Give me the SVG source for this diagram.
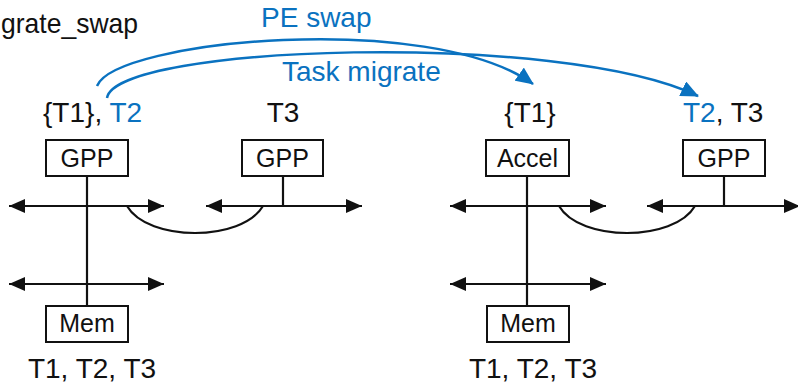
<svg xmlns="http://www.w3.org/2000/svg" width="798" height="385" viewBox="0 0 798 385">
  <style>
    .lbl { font-family: "Liberation Sans", Arial, sans-serif; font-size: 28px; fill: #111; }
    .blue { fill: #0a72c0; }
    .box rect { fill: #fff; stroke: #111; stroke-width: 2; }
    .box text { font-family: "Liberation Sans", Arial, sans-serif; font-size: 25px; fill: #111; text-anchor: middle; }
    .bus { stroke: #111; stroke-width: 2.2; fill: none; marker-start: url(#ah); marker-end: url(#ah); }
    .wire { stroke: #111; stroke-width: 2.2; fill: none; }
    .move { stroke: #0a72c0; stroke-width: 2.5; fill: none; marker-end: url(#bh); }
  </style>
  <defs>
    <marker id="ah" viewBox="0 0 16 14" refX="16" refY="7" markerWidth="16" markerHeight="14" markerUnits="userSpaceOnUse" orient="auto-start-reverse">
      <path d="M0,0 L16,7 L0,14 Z" fill="#111"/>
    </marker>
    <marker id="bh" viewBox="0 0 18 16" refX="17" refY="8" markerWidth="18" markerHeight="16" markerUnits="userSpaceOnUse" orient="auto">
      <path d="M0,0 L18,8 L0,16 Z" fill="#0a72c0"/>
    </marker>
  </defs>

  <rect width="798" height="385" fill="#fff"/>

  <!-- title -->
  <text class="lbl" x="1" y="33" textLength="137" lengthAdjust="spacingAndGlyphs">grate_swap</text>

  <!-- connectors: buses, links, and the task moves -->
  <g id="connectors">
    <path class="bus" d="M9,206 H164"/>
    <path class="bus" d="M9,284 H164"/>
    <path class="bus" d="M206,206 H362"/>
    <path class="bus" d="M450,206 H606"/>
    <path class="bus" d="M450,284 H606"/>
    <path class="bus" d="M647,206 H800"/>
    <path class="wire" d="M87,176 V306"/>
    <path class="wire" d="M283,176 V206"/>
    <path class="wire" d="M527,176 V306"/>
    <path class="wire" d="M724,176 V206"/>
    <path class="wire" d="M127,206 C148,242 242,242 263,206"/>
    <path class="wire" d="M559,206 C580,242 674,242 695,206"/>
    <path class="move" d="M97,86 C115,40 430,10 533,84"/>
    <path class="move" d="M107,98 C115,45 560,30 698,96"/>
  </g>

  <!-- move labels -->
  <text class="lbl blue" x="261" y="27">PE swap</text>
  <text class="lbl blue" x="282" y="81">Task migrate</text>

  <!-- task labels -->
  <text class="lbl" x="43" y="122">{T1}, <tspan class="blue">T2</tspan></text>
  <text class="lbl" x="283" y="122" text-anchor="middle">T3</text>
  <text class="lbl" x="530" y="122" text-anchor="middle">{T1}</text>
  <text class="lbl" x="683" y="122"><tspan class="blue">T2</tspan>, T3</text>
  <text class="lbl" x="92" y="378" text-anchor="middle">T1, T2, T3</text>
  <text class="lbl" x="533" y="378" text-anchor="middle">T1, T2, T3</text>

  <!-- nodes -->
  <g id="gpp-a" class="box">
    <rect x="46" y="140" width="82" height="36"/>
    <text x="87" y="167">GPP</text>
  </g>
  <g id="gpp-b" class="box">
    <rect x="242" y="140" width="81" height="36"/>
    <text x="282.5" y="167">GPP</text>
  </g>
  <g id="mem-a" class="box">
    <rect x="46" y="306" width="82" height="36"/>
    <text x="87" y="332">Mem</text>
  </g>
  <g id="accel" class="box">
    <rect x="486" y="140" width="83" height="36"/>
    <text x="527.5" y="167">Accel</text>
  </g>
  <g id="gpp-c" class="box">
    <rect x="683" y="140" width="82" height="36"/>
    <text x="724" y="167">GPP</text>
  </g>
  <g id="mem-b" class="box">
    <rect x="487" y="306" width="82" height="36"/>
    <text x="528" y="332">Mem</text>
  </g>
</svg>
